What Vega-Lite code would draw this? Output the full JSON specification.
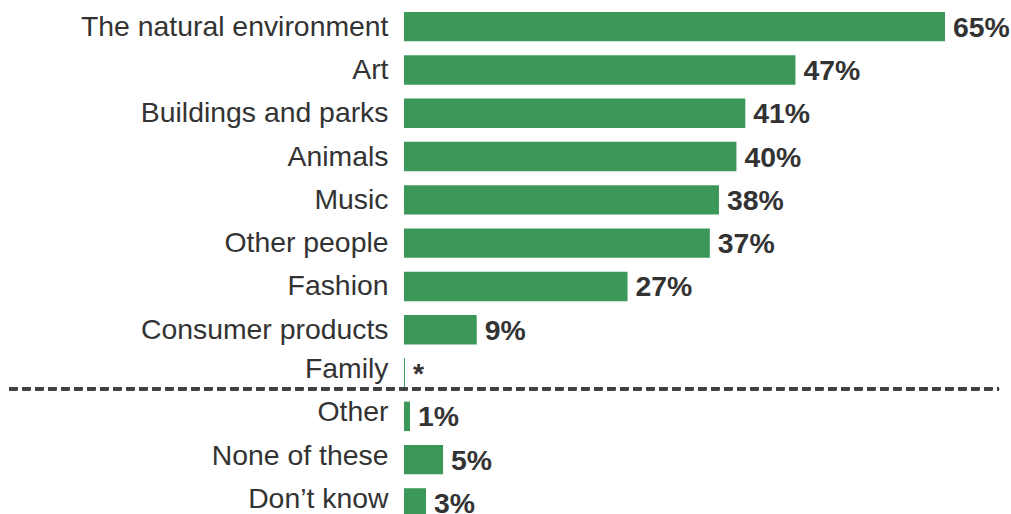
{
  "$schema": "https://vega.github.io/schema/vega-lite/v6.json",
  "autosize": "none",
  "padding": {"left": 404, "top": 5, "right": 0, "bottom": 0},
  "width": 607,
  "height": 519.6,
  "background": "white",
  "config": {"view": {"stroke": null}, "font": "Liberation Sans"},
  "data": {
    "values": [
      {"category": "The natural environment", "value": 65.1, "label": "65%"},
      {"category": "Art", "value": 47.1, "label": "47%"},
      {"category": "Buildings and parks", "value": 41.07, "label": "41%"},
      {"category": "Animals", "value": 40.0, "label": "40%"},
      {"category": "Music", "value": 37.9, "label": "38%"},
      {"category": "Other people", "value": 36.8, "label": "37%"},
      {"category": "Fashion", "value": 26.9, "label": "27%"},
      {"category": "Consumer products", "value": 8.75, "label": "9%"},
      {"category": "Family", "value": 0.12, "label": "*"},
      {"category": "Other", "value": 0.72, "label": "1%"},
      {"category": "None of these", "value": 4.7, "label": "5%"},
      {"category": "Don’t know", "value": 2.65, "label": "3%"}
    ]
  },
  "encoding": {
    "y": {
      "field": "category",
      "type": "nominal",
      "sort": null,
      "scale": {"paddingInner": 0.32, "paddingOuter": 0.16},
      "axis": {
        "title": null,
        "domain": false,
        "ticks": false,
        "labelPadding": 16,
        "labelFont": "Liberation Sans",
        "labelFontSize": 28.4,
        "labelColor": "#333333",
        "labelLimit": 500,
        "labelOffset": {"condition": {"test": "indexof(['Other','None of these','Don’t know','Family'], datum.value) >= 0", "value": -4}, "value": 0}
      }
    }
  },
  "layer": [
    {
      "mark": {"type": "bar", "color": "#3c9858"},
      "encoding": {
        "x": {"field": "value", "type": "quantitative", "scale": {"domain": [0, 73.04], "nice": false}, "axis": null}
      }
    },
    {
      "mark": {"type": "text", "align": "left", "baseline": "middle", "dx": 8, "dy": 1, "font": "Liberation Sans", "fontSize": 28.4, "fontWeight": "bold", "color": "#333333"},
      "encoding": {
        "x": {"field": "value", "type": "quantitative"},
        "text": {"field": "label"}
      }
    },
    {
      "mark": {"type": "rule", "color": "#404040", "strokeWidth": 3, "strokeDash": [8, 5], "yOffset": -27.5},
      "encoding": {
        "y": {"datum": "Other"},
        "x": {"datum": -47.5},
        "x2": {"datum": 71.6}
      }
    }
  ]
}
